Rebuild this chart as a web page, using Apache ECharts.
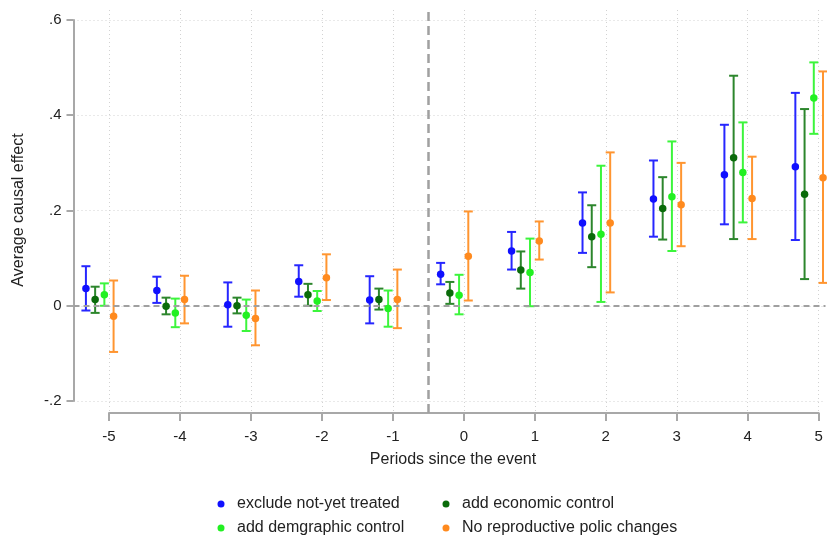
<!DOCTYPE html>
<html>
<head>
<meta charset="utf-8">
<script src="https://cdn.jsdelivr.net/npm/echarts@6/dist/echarts.min.js"></script>
<style>
  html, body { margin: 0; padding: 0; background: #fff; }
  #chart { width: 827px; height: 541px; }
</style>
</head>
<body>
<div id="chart"></div>
<script>
// Event-study estimates with 95% confidence intervals, one entry per period
const periods = [-5, -4, -3, -2, -1, 0, 1, 2, 3, 4, 5];
const yTicks = [-0.2, 0, 0.2, 0.4, 0.6];

const excludeEst = [0.036, 0.032, 0.002, 0.051, 0.012, 0.066, 0.115, 0.174, 0.224, 0.275, 0.292];
const excludeLo  = [-0.010, 0.006, -0.044, 0.019, -0.037, 0.045, 0.076, 0.111, 0.145, 0.171, 0.138];
const excludeHi  = [0.083, 0.061, 0.049, 0.085, 0.062, 0.090, 0.155, 0.238, 0.305, 0.380, 0.447];

const econEst = [0.013, -0.001, 0.000, 0.023, 0.013, 0.027, 0.075, 0.145, 0.204, 0.311, 0.234];
const econLo  = [-0.015, -0.018, -0.016, 0.000, -0.008, 0.004, 0.036, 0.081, 0.139, 0.140, 0.056];
const econHi  = [0.040, 0.017, 0.017, 0.046, 0.036, 0.050, 0.114, 0.211, 0.270, 0.483, 0.413];

const demoEst = [0.023, -0.015, -0.020, 0.010, -0.006, 0.022, 0.070, 0.150, 0.229, 0.280, 0.436];
const demoLo  = [0.000, -0.045, -0.053, -0.011, -0.044, -0.018, -0.001, 0.008, 0.115, 0.175, 0.361];
const demoHi  = [0.047, 0.015, 0.013, 0.031, 0.032, 0.065, 0.141, 0.294, 0.345, 0.385, 0.511];

const reproEst = [-0.022, 0.013, -0.027, 0.059, 0.013, 0.104, 0.136, 0.174, 0.212, 0.225, 0.269];
const reproLo  = [-0.097, -0.037, -0.083, 0.012, -0.047, 0.011, 0.097, 0.028, 0.125, 0.140, 0.048];
const reproHi  = [0.053, 0.063, 0.032, 0.108, 0.076, 0.198, 0.177, 0.322, 0.300, 0.313, 0.492];

const seriesNames = [
  'exclude not-yet treated',
  'add economic control',
  'add demgraphic control',
  'No reproductive polic changes'
];
const seriesColors = ['#1010ff', '#0a6b0a', '#22f022', '#ff8a1e'];
const barColors    = ['#2626ff', '#2c862c', '#3cf53c', '#ff9530'];
const dodge = [-0.325, -0.195, -0.065, 0.065];
const estimates = [excludeEst, econEst, demoEst, reproEst];
const lows = [excludeLo, econLo, demoLo, reproLo];
const highs = [excludeHi, econHi, demoHi, reproHi];

const FONT = 'Liberation Sans, Arial, sans-serif';
const AXIS_GREY = '#a8a8a8';
const GRID_GREY = '#d2d2d2';
const TEXT = '#222';

function fmtY(v) {
  const r = Math.round(v * 10) / 10;
  if (r === 0) return '0';
  const s = Math.abs(r).toFixed(1).replace(/^0/, '');
  return (r < 0 ? '-' : '') + s;
}

function errorBarRender(color) {
  return function (params, api) {
    const x = api.value(0);
    const lo = api.coord([x, api.value(1)]);
    const hi = api.coord([x, api.value(2)]);
    const half = 4.5;
    const style = { stroke: color, lineWidth: 2 };
    return {
      type: 'group',
      children: [
        { type: 'line', shape: { x1: hi[0], y1: hi[1], x2: lo[0], y2: lo[1] }, style },
        { type: 'line', shape: { x1: hi[0] - half, y1: hi[1], x2: hi[0] + half, y2: hi[1] }, style },
        { type: 'line', shape: { x1: lo[0] - half, y1: lo[1], x2: lo[0] + half, y2: lo[1] }, style }
      ]
    };
  };
}

const series = [];
for (let s = 0; s < 4; s++) {
  series.push({
    type: 'custom',
    name: seriesNames[s] + ' CI',
    xAxisIndex: 0, yAxisIndex: 0,
    renderItem: errorBarRender(barColors[s]),
    data: periods.map((p, i) => [p + dodge[s], lows[s][i], highs[s][i]]),
    silent: true,
    clip: false,
    z: 3
  });
}
for (let s = 0; s < 4; s++) {
  series.push({
    type: 'scatter',
    name: seriesNames[s],
    xAxisIndex: 0, yAxisIndex: 0,
    symbol: 'circle',
    symbolSize: 7.5,
    itemStyle: { color: seriesColors[s], opacity: 1 },
    data: periods.map((p, i) => [p + dodge[s], estimates[s][i]]),
    silent: true,
    z: 5
  });
}
// zero reference line
series.push({
  type: 'scatter', xAxisIndex: 0, yAxisIndex: 0, data: [], silent: true,
  markLine: {
    silent: true, symbol: 'none', label: { show: false },
    lineStyle: { color: '#a0a0a0', width: 2, type: [6, 4] },
    data: [{ yAxis: 0 }]
  },
  z: 2
});
// treatment onset line
series.push({
  type: 'scatter', xAxisIndex: 1, yAxisIndex: 1, data: [], silent: true,
  markLine: {
    silent: true, symbol: 'none', label: { show: false },
    lineStyle: { color: '#a0a0a0', width: 2.5, type: [9, 5] },
    data: [{ xAxis: -0.5 }]
  },
  z: 2
});

const legendCommon = {
  orient: 'vertical',
  icon: 'circle',
  itemWidth: 22,
  itemHeight: 7,
  itemGap: 6,
  height: 46,
  selectedMode: false,
  textStyle: { fontFamily: FONT, fontSize: 16, lineHeight: 18, color: TEXT }
};

const option = {
  animation: false,
  backgroundColor: '#ffffff',
  textStyle: { fontFamily: FONT },
  grid: [
    { left: 73.5, right: 1.5, top: 20, bottom: 140, containLabel: false, outerBoundsMode: 'none' },
    { left: 109, right: 8.3, top: 10, bottom: 128, containLabel: false, outerBoundsMode: 'none' }
  ],
  xAxis: [
    { type: 'value', gridIndex: 0, min: -5.5, max: 5.1, show: false },
    {
      type: 'value', gridIndex: 1, min: -5, max: 5, interval: 1,
      axisLine: { show: true, onZero: false, lineStyle: { color: AXIS_GREY, width: 2 } },
      axisTick: { show: true, length: 8, lineStyle: { color: AXIS_GREY, width: 2 } },
      axisLabel: { color: TEXT, fontSize: 15, fontFamily: FONT, margin: 16 },
      splitLine: { show: true, lineStyle: { color: GRID_GREY, width: 1, type: [1, 3] } }
    }
  ],
  yAxis: [
    {
      type: 'value', gridIndex: 0, min: yTicks[0], max: yTicks[yTicks.length - 1], interval: 0.2,
      axisLine: { show: true, onZero: false, lineStyle: { color: AXIS_GREY, width: 2 } },
      axisTick: { show: true, length: 7, lineStyle: { color: AXIS_GREY, width: 2 } },
      axisLabel: { color: TEXT, fontSize: 15, fontFamily: FONT, margin: 12, formatter: fmtY },
      splitLine: { show: true, lineStyle: { color: GRID_GREY, width: 1, type: [1, 3] } }
    },
    { type: 'value', gridIndex: 1, min: 0, max: 1, show: false }
  ],
  legend: [
    Object.assign({ left: 212.5, top: 490, data: [seriesNames[0], seriesNames[2]] }, legendCommon),
    Object.assign({ left: 437.5, top: 490, data: [seriesNames[1], seriesNames[3]] }, legendCommon)
  ],
  graphic: [
    {
      type: 'text',
      x: 453, y: 460,
      style: { text: 'Periods since the event', font: '16px ' + FONT, fill: TEXT, textAlign: 'center', textVerticalAlign: 'middle' }
    },
    {
      type: 'text',
      x: 19, y: 210,
      rotation: Math.PI / 2,
      style: { text: 'Average causal effect', font: '16px ' + FONT, fill: TEXT, textAlign: 'center', textVerticalAlign: 'middle' }
    }
  ],
  series: series
};

const chart = echarts.init(document.getElementById('chart'), null, { renderer: 'canvas' });
chart.setOption(option);
</script>
</body>
</html>
